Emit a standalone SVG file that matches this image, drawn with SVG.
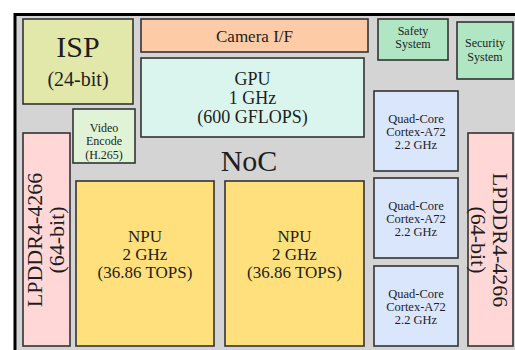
<svg xmlns="http://www.w3.org/2000/svg" width="515" height="350" viewBox="0 0 515 350">
<style>
.b{stroke:#333;stroke-width:1.6}
text{font-family:"Liberation Serif","Times New Roman","DejaVu Serif",serif;fill:#1e1e1e;text-anchor:middle}
.isp{fill:#e2e8aa}.cam{fill:#fdcba5}.gpu{fill:#d9f5ee}.ve{fill:#e0f3d7}.sec{fill:#b0e6c3}.cpu{fill:#d9e6fc}.ddr{fill:#ffd7d7}.npu{fill:#ffe07c}
.s{font-size:12.5px}
</style>
<rect x="0" y="0" width="515" height="350" fill="#fff"/>
<rect x="15" y="14.5" width="510" height="345" fill="#d4d4d4" stroke="#000" stroke-width="3"/>
<g font-family="Liberation Serif, serif">
<g id="isp"><rect class="b isp" x="23" y="19" width="110" height="85"/><text x="78" y="57" font-size="30">ISP</text><text x="78" y="86" font-size="20">(24-bit)</text></g>
<g id="camera"><rect class="b cam" x="141" y="19" width="227" height="33"/><text x="254.5" y="42" font-size="17">Camera I/F</text></g>
<g id="gpu"><rect class="b gpu" x="141" y="58" width="223" height="79"/><text x="252.5" y="85" font-size="18">GPU</text><text x="252.5" y="104" font-size="18">1 GHz</text><text x="252.5" y="123" font-size="18">(600 GFLOPS)</text></g>
<g id="safety"><rect class="b sec" x="378" y="19" width="70" height="41"/><text x="413" y="35" font-size="12">Safety</text><text x="413" y="48" font-size="12">System</text></g>
<g id="security"><rect class="b sec" x="457" y="22" width="56" height="57"/><text x="485" y="47" font-size="12">Security</text><text x="485" y="61" font-size="12">System</text></g>
<g id="video"><rect class="b ve" x="73" y="109" width="62" height="54"/><text x="104" y="131.5" font-size="12">Video</text><text x="104" y="145" font-size="12">Encode</text><text x="104" y="158.5" font-size="12">(H.265)</text></g>
<g id="noc"><text x="249" y="171" font-size="30">NoC</text></g>
<g id="cpu1"><rect class="b cpu" x="374" y="91" width="84" height="80"/><text class="s" x="416" y="122.5">Quad-Core</text><text class="s" x="416" y="135.5">Cortex-A72</text><text class="s" x="416" y="148.5">2.2 GHz</text></g>
<g id="cpu2"><rect class="b cpu" x="374" y="178" width="84" height="80"/><text class="s" x="416" y="209.5">Quad-Core</text><text class="s" x="416" y="222.5">Cortex-A72</text><text class="s" x="416" y="235.5">2.2 GHz</text></g>
<g id="cpu3"><rect class="b cpu" x="374" y="266" width="84" height="80"/><text class="s" x="416" y="297.5">Quad-Core</text><text class="s" x="416" y="310.5">Cortex-A72</text><text class="s" x="416" y="323.5">2.2 GHz</text></g>
<g id="npu1"><rect class="b npu" x="76" y="181" width="138" height="165"/><text x="145" y="242" font-size="17">NPU</text><text x="145" y="260" font-size="17">2 GHz</text><text x="145" y="278" font-size="17">(36.86 TOPS)</text></g>
<g id="npu2"><rect class="b npu" x="225" y="181" width="139" height="165"/><text x="294.5" y="242" font-size="17">NPU</text><text x="294.5" y="260" font-size="17">2 GHz</text><text x="294.5" y="278" font-size="17">(36.86 TOPS)</text></g>
<g id="ddr-left"><rect class="b ddr" x="23" y="133" width="47" height="213"/><g transform="translate(46,240) rotate(-90)"><text x="0" y="-4" font-size="22">LPDDR4-4266</text><text x="0" y="18" font-size="22">(64-bit)</text></g></g>
<g id="ddr-right"><rect class="b ddr" x="468" y="133" width="45" height="213"/><g transform="translate(490,240) rotate(90)"><text x="0" y="-3" font-size="22">LPDDR4-4266</text><text x="0" y="19" font-size="22">(64-bit)</text></g></g>
</g>
<g id="connectors"></g>
</svg>
